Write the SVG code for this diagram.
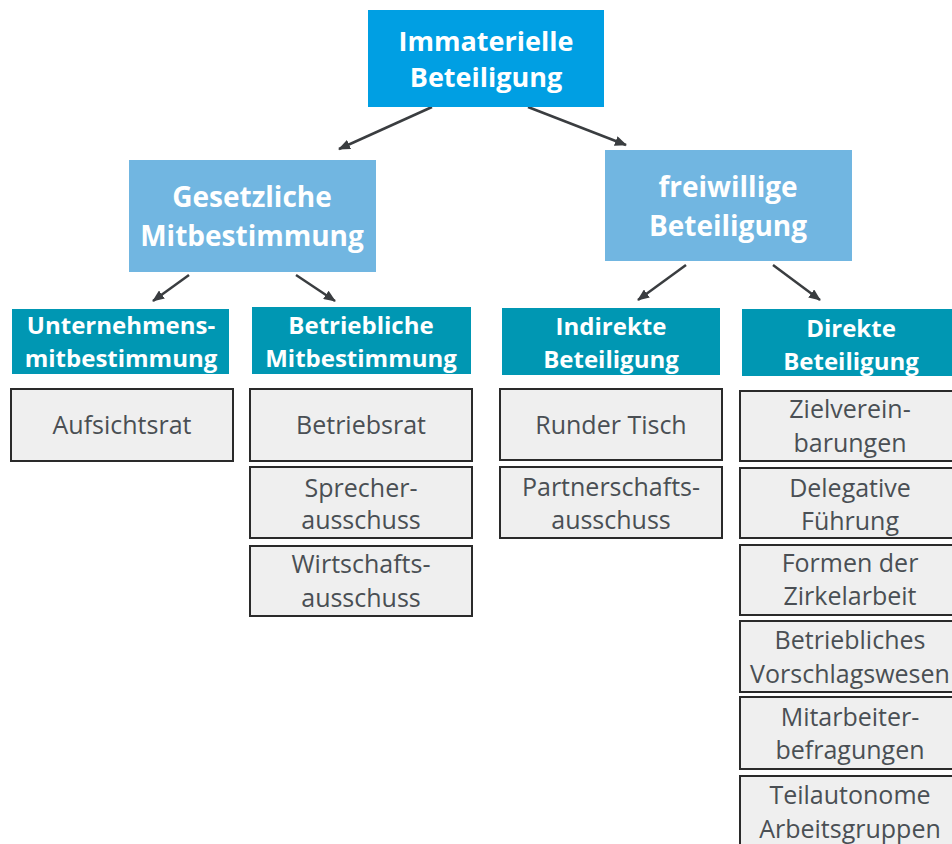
<svg xmlns="http://www.w3.org/2000/svg" width="952" height="844" viewBox="0 0 952 844">
<defs>
<style>
.top{fill:#009FE3}
.mid{fill:#71B6E1}
.sub{fill:#0097B3}
.leaf{fill:#EFEFEF;stroke:#2A2A2A;stroke-width:2}
.h1{font-family:"Open Sans","Liberation Sans",sans-serif;font-weight:bold;font-size:27px;fill:#fff;text-anchor:middle}
.h2{font-family:"Open Sans","Liberation Sans",sans-serif;font-weight:bold;font-size:28px;fill:#fff;text-anchor:middle}
.h3{font-family:"Open Sans","Liberation Sans",sans-serif;font-weight:bold;font-size:24px;fill:#fff;text-anchor:middle}
.t{font-family:"Open Sans","Liberation Sans",sans-serif;font-size:25px;fill:#4A4F54;text-anchor:middle}
.c{stroke:#3A3D40;stroke-width:2.5;fill:none;marker-end:url(#ah)}
</style>
<marker id="ah" viewBox="0 0 12 10" refX="11" refY="5" markerWidth="12" markerHeight="10" markerUnits="userSpaceOnUse" orient="auto">
<path d="M0,0 L12,5 L0,10 Z" fill="#3A3D40"/>
</marker>
</defs>
<rect width="952" height="844" fill="#fff"/>

<g id="connectors">
<line class="c" x1="432" y1="107" x2="339" y2="149"/>
<line class="c" x1="528" y1="107" x2="626" y2="145"/>
<line class="c" x1="189" y1="275" x2="153" y2="301"/>
<line class="c" x1="296" y1="275" x2="335" y2="301"/>
<line class="c" x1="686" y1="265" x2="638" y2="300"/>
<line class="c" x1="773" y1="265" x2="820" y2="300"/>
</g>

<g id="n-immaterielle">
<rect class="top" x="368" y="10" width="236" height="97"/>
<text class="h1" x="486" y="51">Immaterielle</text>
<text class="h1" x="486" y="87">Beteiligung</text>
</g>

<g id="n-gesetzliche">
<rect class="mid" x="129" y="160" width="247" height="112"/>
<text class="h2" x="252" y="207">Gesetzliche</text>
<text class="h2" x="252" y="246">Mitbestimmung</text>
</g>

<g id="n-freiwillige">
<rect class="mid" x="605" y="150" width="247" height="111"/>
<text class="h2" x="728" y="197">freiwillige</text>
<text class="h2" x="728" y="236">Beteiligung</text>
</g>

<g id="n-unternehmens">
<rect class="sub" x="12" y="309" width="217" height="65"/>
<text class="h3" x="121" y="334">Unternehmens-</text>
<text class="h3" x="121" y="367">mitbestimmung</text>
</g>

<g id="n-betriebliche">
<rect class="sub" x="252" y="307" width="219" height="67"/>
<text class="h3" x="361" y="334">Betriebliche</text>
<text class="h3" x="361" y="367">Mitbestimmung</text>
</g>

<g id="n-indirekte">
<rect class="sub" x="502" y="308" width="218" height="67"/>
<text class="h3" x="611" y="335">Indirekte</text>
<text class="h3" x="611" y="368">Beteiligung</text>
</g>

<g id="n-direkte">
<rect class="sub" x="742" y="309" width="215" height="67"/>
<text class="h3" x="851" y="337">Direkte</text>
<text class="h3" x="851" y="370">Beteiligung</text>
</g>

<g id="n-aufsichtsrat">
<rect class="leaf" x="11" y="389" width="222" height="72"/>
<text class="t" x="122" y="434">Aufsichtsrat</text>
</g>

<g id="n-betriebsrat">
<rect class="leaf" x="250" y="389" width="222" height="72"/>
<text class="t" x="361" y="434">Betriebsrat</text>
</g>

<g id="n-sprecher">
<rect class="leaf" x="250" y="467" width="222" height="71"/>
<text class="t" x="361" y="497">Sprecher-</text>
<text class="t" x="361" y="529">ausschuss</text>
</g>

<g id="n-wirtschafts">
<rect class="leaf" x="250" y="546" width="222" height="70"/>
<text class="t" x="361" y="573">Wirtschafts-</text>
<text class="t" x="361" y="607">ausschuss</text>
</g>

<g id="n-runder">
<rect class="leaf" x="500" y="389" width="222" height="71"/>
<text class="t" x="611" y="434">Runder Tisch</text>
</g>

<g id="n-partnerschafts">
<rect class="leaf" x="500" y="467" width="222" height="71"/>
<text class="t" x="611" y="496">Partnerschafts-</text>
<text class="t" x="611" y="529">ausschuss</text>
</g>

<g id="n-ziel">
<rect class="leaf" x="740" y="391" width="220" height="70"/>
<text class="t" x="850" y="418">Zielverein-</text>
<text class="t" x="850" y="452">barungen</text>
</g>

<g id="n-delegative">
<rect class="leaf" x="740" y="468" width="220" height="70"/>
<text class="t" x="850" y="497">Delegative</text>
<text class="t" x="850" y="530">Führung</text>
</g>

<g id="n-formen">
<rect class="leaf" x="740" y="545" width="220" height="70"/>
<text class="t" x="850" y="572">Formen der</text>
<text class="t" x="850" y="605">Zirkelarbeit</text>
</g>

<g id="n-vorschlag">
<rect class="leaf" x="740" y="621" width="220" height="71"/>
<text class="t" x="850" y="649">Betriebliches</text>
<text class="t" x="850" y="683">Vorschlagswesen</text>
</g>

<g id="n-mitarbeiter">
<rect class="leaf" x="740" y="697" width="220" height="72"/>
<text class="t" x="850" y="726">Mitarbeiter-</text>
<text class="t" x="850" y="759">befragungen</text>
</g>

<g id="n-teilautonome">
<rect class="leaf" x="740" y="776" width="220" height="80"/>
<text class="t" x="850" y="804">Teilautonome</text>
<text class="t" x="850" y="838">Arbeitsgruppen</text>
</g>
</svg>
